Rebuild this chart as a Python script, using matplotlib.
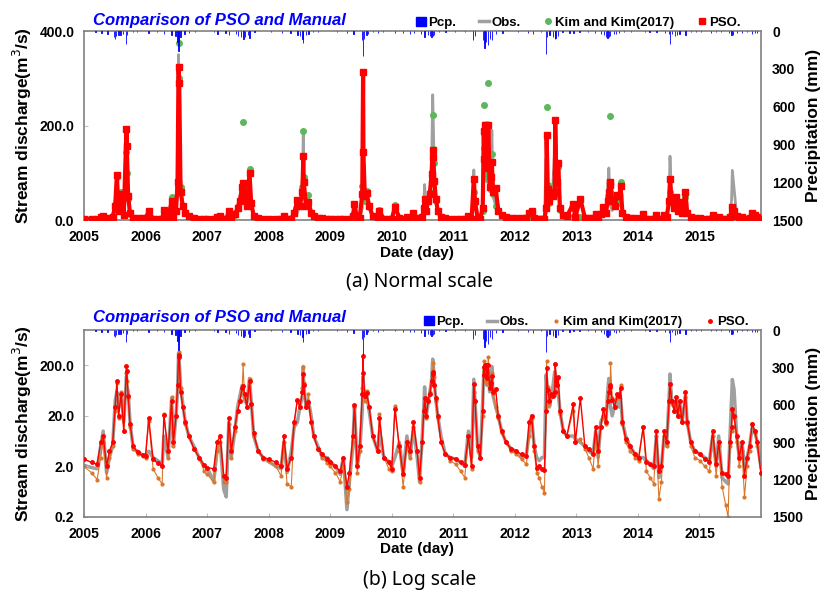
import numpy as np
import pandas as pd
import matplotlib
matplotlib.use('Agg')
from matplotlib import pyplot as plt
from matplotlib.lines import Line2D
from matplotlib.patches import Patch

plt.rcParams['font.family'] = ['Liberation Sans', 'DejaVu Sans']

# ---- data (m3/s), one row per year ----
dates = [
    '2005-01-01', '2005-02-15', '2005-03-20', '2005-04-10', '2005-04-25', '2005-05-15', '2005-06-01', '2005-06-20', '2005-07-05', '2005-07-15', '2005-07-25', '2005-08-10', '2005-08-25', '2005-09-10', '2005-09-12', '2005-09-20', '2005-10-01', '2005-10-20', '2005-11-15', '2005-12-15',
    '2006-01-01', '2006-01-20', '2006-02-15', '2006-03-15', '2006-04-10', '2006-04-20', '2006-05-15', '2006-06-05', '2006-06-15', '2006-07-01', '2006-07-10', '2006-07-16', '2006-07-20', '2006-07-28', '2006-08-10', '2006-08-25', '2006-09-15', '2006-10-15', '2006-11-15', '2006-12-15',
    '2007-01-01', '2007-02-10', '2007-03-01', '2007-03-20', '2007-04-10', '2007-04-25', '2007-05-10', '2007-05-25', '2007-06-15', '2007-07-01', '2007-07-15', '2007-07-28', '2007-08-03', '2007-08-12', '2007-08-25', '2007-09-10', '2007-09-20', '2007-10-05', '2007-11-01', '2007-12-01',
    '2008-01-01', '2008-02-15', '2008-03-15', '2008-04-01', '2008-04-20', '2008-05-15', '2008-06-01', '2008-06-20', '2008-07-05', '2008-07-20', '2008-07-25', '2008-07-28', '2008-08-10', '2008-08-25', '2008-09-10', '2008-09-25', '2008-10-20', '2008-11-15', '2008-12-15',
    '2009-01-01', '2009-02-01', '2009-03-01', '2009-03-20', '2009-04-10', '2009-04-25', '2009-05-15', '2009-05-25', '2009-06-10', '2009-06-25', '2009-07-10', '2009-07-15', '2009-07-17', '2009-07-25', '2009-08-05', '2009-08-20', '2009-09-10', '2009-10-10', '2009-10-20', '2009-11-15', '2009-12-15',
    '2010-01-01', '2010-01-20', '2010-02-15', '2010-03-10', '2010-04-01', '2010-04-20', '2010-05-10', '2010-06-01', '2010-06-15', '2010-07-01', '2010-07-10', '2010-07-15', '2010-07-25', '2010-08-05', '2010-08-15', '2010-08-25', '2010-09-01', '2010-09-05', '2010-09-10', '2010-09-20', '2010-10-01', '2010-10-20', '2010-11-15', '2010-12-15',
    '2011-01-15', '2011-02-15', '2011-03-10', '2011-04-01', '2011-04-20', '2011-05-03', '2011-05-10', '2011-05-25', '2011-06-10', '2011-06-25', '2011-07-01', '2011-07-05', '2011-07-10', '2011-07-15', '2011-07-20', '2011-07-28', '2011-08-05', '2011-08-12', '2011-08-18', '2011-08-25', '2011-09-10', '2011-09-25', '2011-10-15', '2011-11-10', '2011-12-10',
    '2012-01-10', '2012-02-10', '2012-03-10', '2012-03-25', '2012-04-10', '2012-04-25', '2012-05-10', '2012-05-25', '2012-06-10', '2012-06-25', '2012-07-05', '2012-07-08', '2012-07-15', '2012-07-25', '2012-08-05', '2012-08-15', '2012-08-25', '2012-08-28', '2012-09-03', '2012-09-08', '2012-09-15', '2012-09-25', '2012-10-15', '2012-11-05', '2012-12-13', '2012-12-25',
    '2013-01-24', '2013-02-20', '2013-03-15', '2013-04-10', '2013-04-25', '2013-05-10', '2013-05-25', '2013-06-10', '2013-06-25', '2013-07-05', '2013-07-12', '2013-07-20', '2013-07-22', '2013-08-01', '2013-08-15', '2013-09-01', '2013-09-12', '2013-09-20', '2013-10-01', '2013-10-20', '2013-11-15', '2013-12-15',
    '2014-01-05', '2014-02-01', '2014-02-20', '2014-03-15', '2014-04-05', '2014-04-20', '2014-05-05', '2014-05-20', '2014-06-05', '2014-06-20', '2014-07-05', '2014-07-10', '2014-07-20', '2014-08-05', '2014-08-15', '2014-08-25', '2014-09-05', '2014-09-20', '2014-10-10', '2014-10-20', '2014-11-10', '2014-12-05',
    '2015-01-05', '2015-02-01', '2015-03-01', '2015-03-20', '2015-04-10', '2015-04-25', '2015-05-15', '2015-06-05', '2015-06-20', '2015-07-01', '2015-07-10', '2015-07-15', '2015-07-25', '2015-08-10', '2015-08-25', '2015-09-10', '2015-09-25', '2015-10-10', '2015-10-25', '2015-11-10', '2015-11-25', '2015-12-10', '2015-12-31',
]
obs = [
    2.1, 1.9, 1.8, 5, 10, 1.5, 3, 5, 40, 60, 30, 50, 15, 120, 80, 60, 15, 4.5, 4, 3.3,
    3.3, 4, 3, 2.6, 2.2, 8, 3, 45, 5, 20, 60, 350, 250, 80, 35, 15, 8, 5, 3, 2,
    1.9, 1.0, 4, 6, 0.7, 0.5, 15, 3, 10, 30, 50, 80, 60, 40, 35, 110, 40, 8, 4, 3,
    2.5, 2.0, 1.8, 6, 1.5, 4, 12, 15, 30, 50, 190, 80, 30, 40, 20, 8, 5, 3, 3,
    2.5, 2, 1.4, 3, 0.28, 1, 5, 30, 2, 4, 25, 120, 80, 40, 50, 25, 8, 4, 10, 3, 2.5,
    2, 3, 6, 1.5, 8, 3, 12, 3, 1.0, 8, 30, 75, 20, 35, 60, 100, 265, 200, 100, 40, 20, 8, 3.5, 3,
    2.8, 2.4, 2, 10, 3, 106, 40, 5, 3, 40, 150, 190, 150, 100, 80, 160, 60, 100, 190, 50, 30, 20, 10, 6, 4.5,
    4, 3, 3.5, 8, 20, 5, 3, 2.6, 3, 3, 130, 100, 40, 30, 50, 80, 150, 120, 70, 50, 60, 25, 10, 8, 8, 7,
    6, 5, 4, 3.5, 10, 3, 15, 20, 15, 60, 110, 40, 30, 20, 30, 50, 30, 45, 15, 8, 5, 3.5,
    3, 3, 2.6, 2.2, 1.8, 8, 1.2, 2, 8, 5, 50, 135, 40, 30, 40, 20, 40, 15, 50, 15, 6, 4,
    3.5, 3, 2.6, 8, 2, 8, 1.2, 1, 0.9, 8, 40, 105, 67, 8, 3, 6, 2, 3, 5, 12, 10, 6, 2,
]
kim = [
    2.0, 1.5, 1.1, 3, 6, 1.2, 3, 5, 25, 90, 18, 60, 10, 143, 100, 45, 12, 4.5, 3.5, 3.2,
    3.0, 16, 1.8, 1.2, 0.9, 22, 3, 48, 5, 20, 70, 375, 300, 70, 30, 14, 8, 4.5, 3, 1.6,
    1.4, 1.0, 4, 6, 1.0, 1.0, 14, 3, 10, 25, 40, 60, 208, 45, 30, 108, 35, 8, 4, 2.8,
    2.6, 2.0, 1.3, 6, 0.9, 0.8, 14, 40, 30, 70, 188, 90, 30, 53, 15, 8, 4.5, 3, 2.3,
    2.0, 1.5, 1.0, 2, 0.4, 0.7, 6, 30, 1.5, 4, 72, 55, 65, 40, 62, 30, 8, 4, 22, 3, 1.8,
    1.6, 32, 4, 0.8, 5, 3, 12, 4, 1.0, 6, 28, 40, 18, 40, 60, 85, 150, 223, 120, 40, 18, 6, 3.5, 2.6,
    2.2, 1.6, 1.2, 7, 1.8, 60, 39, 4, 3, 20, 152, 243, 100, 95, 90, 290, 70, 85, 140, 55, 30, 18, 9, 6, 4,
    3.5, 2.8, 2.2, 8, 18, 4, 1.5, 1.2, 0.8, 0.6, 30, 240, 74, 35, 50, 55, 80, 210, 110, 80, 113, 22, 10, 8, 25, 6,
    7, 4.5, 3, 1.8, 8, 2, 12, 20, 14, 50, 60, 60, 221, 45, 30, 45, 50, 80, 14, 6, 4, 3,
    2.6, 12, 1.6, 1.2, 0.9, 8, 0.45, 1, 8, 5, 40, 60, 35, 25, 39, 20, 28, 15, 48, 14, 5, 3,
    2.6, 2.0, 1.6, 8, 1.3, 5, 0.8, 0.35, 0.2, 5, 10, 25, 18, 6, 2, 4, 0.5, 2, 4, 14, 9, 5, 1.5,
]
pso = [
    2.8, 2.4, 2.2, 6, 8, 2.0, 4, 6, 30, 96, 20, 55, 10, 193, 157, 50, 14, 5, 3.8, 3.3,
    3.2, 18, 2.8, 2.3, 2.0, 21, 4, 40, 6, 20, 80, 323, 290, 60, 30, 15, 8, 4.5, 3, 2.1,
    1.9, 1.8, 6, 8, 1.3, 1.2, 18, 4, 12, 25, 40, 70, 78, 55, 30, 100, 35, 9, 4, 3,
    2.8, 2.4, 2.0, 8, 1.8, 3, 15, 42, 30, 60, 135, 80, 30, 38, 15, 8, 4.5, 3.5, 2.8,
    2.4, 2.0, 1.6, 3, 0.8, 1.5, 8, 33, 2, 5, 55, 313, 143, 50, 57, 30, 8, 4, 18, 3, 2.4,
    1.8, 28, 5, 1.4, 6, 4, 15, 4, 1.2, 6, 25, 45, 20, 40, 55, 97, 149, 134, 83, 45, 20, 6, 3.5, 3,
    2.8, 2.4, 2.1, 8, 2, 87, 40, 5, 3, 25, 188, 130, 202, 202, 110, 202, 70, 90, 122, 60, 67, 20, 10, 6, 4.5,
    4, 3.5, 3.2, 15, 20, 5, 1.9, 2.0, 1.8, 1.7, 25, 179, 65, 40, 55, 50, 60, 212, 100, 81, 120, 25, 10, 8, 34, 6,
    45, 5, 4.5, 3.5, 12, 4, 12, 28, 15, 40, 60, 80, 75, 42, 30, 53, 50, 71, 15, 7, 5, 3.5,
    3, 12, 2.5, 2.2, 2.0, 10, 1.6, 2, 10, 6, 40, 87, 40, 25, 48, 20, 39, 15, 59, 15, 6, 4,
    3.5, 2.8, 2.5, 10, 2.2, 6, 1.5, 1.4, 1.3, 6, 12, 28, 20, 8, 3, 6, 1.3, 3, 5, 14, 10, 6, 1.5,
]

# daily precipitation (mm), main rain days
pcp_dates = [
    '2005-03-10', '2005-04-15', '2005-05-20', '2005-06-28', '2005-07-02', '2005-07-10', '2005-07-25', '2005-08-05', '2005-08-20', '2005-09-06', '2005-09-15', '2005-10-20', '2005-11-10',
    '2006-01-18', '2006-03-10', '2006-04-20', '2006-06-05', '2006-06-28', '2006-07-10', '2006-07-15', '2006-07-20', '2006-07-28', '2006-08-20', '2006-09-15', '2006-10-20',
    '2007-02-10', '2007-03-05', '2007-04-20', '2007-05-10', '2007-06-20', '2007-07-05', '2007-07-20', '2007-08-05', '2007-08-15', '2007-09-01', '2007-09-10', '2007-10-10',
    '2008-01-15', '2008-03-20', '2008-05-10', '2008-06-20', '2008-07-05', '2008-07-20', '2008-07-25', '2008-08-10', '2008-08-25', '2008-09-20', '2008-10-20',
    '2009-02-10', '2009-04-10', '2009-05-20', '2009-07-07', '2009-07-14', '2009-07-20', '2009-08-05', '2009-08-15', '2009-09-10', '2009-10-10', '2009-11-10',
    '2010-01-20', '2010-03-10', '2010-04-20', '2010-05-15', '2010-06-25', '2010-07-15', '2010-08-05', '2010-08-15', '2010-08-25', '2010-09-01', '2010-09-10', '2010-10-10', '2010-11-15',
    '2011-01-10', '2011-03-10', '2011-04-28', '2011-05-10', '2011-06-25', '2011-07-05', '2011-07-10', '2011-07-15', '2011-07-28', '2011-08-08', '2011-08-18', '2011-09-10', '2011-10-20',
    '2012-01-20', '2012-03-20', '2012-04-20', '2012-06-05', '2012-07-05', '2012-07-10', '2012-07-25', '2012-08-15', '2012-08-25', '2012-08-30', '2012-09-15', '2012-10-10', '2012-11-20', '2012-12-15',
    '2013-01-20', '2013-03-10', '2013-04-20', '2013-05-25', '2013-06-15', '2013-06-25', '2013-07-05', '2013-07-12', '2013-07-20', '2013-08-10', '2013-08-25', '2013-09-10', '2013-10-10', '2013-11-20',
    '2014-02-10', '2014-03-10', '2014-04-20', '2014-06-10', '2014-07-05', '2014-07-10', '2014-07-20', '2014-08-10', '2014-08-20', '2014-09-05', '2014-10-10', '2014-11-10', '2014-12-10',
    '2015-01-10', '2015-03-10', '2015-04-10', '2015-05-10', '2015-06-25', '2015-07-10', '2015-07-20', '2015-08-10', '2015-09-10', '2015-10-10', '2015-11-10', '2015-11-25', '2015-12-10',
]
pcp = [
    10, 15, 20, 45, 60, 40, 30, 35, 25, 100, 30, 10, 8,
    15, 8, 20, 30, 40, 90, 160, 90, 50, 20, 15, 10,
    8, 20, 15, 30, 25, 40, 50, 60, 45, 30, 55, 10,
    8, 15, 15, 30, 40, 60, 95, 30, 25, 10, 8,
    10, 15, 25, 70, 200, 60, 35, 20, 10, 15, 8,
    12, 15, 20, 18, 25, 45, 30, 40, 50, 40, 35, 10, 8,
    5, 10, 70, 40, 70, 135, 100, 85, 110, 60, 70, 25, 15,
    8, 15, 25, 10, 180, 50, 30, 45, 60, 55, 40, 10, 15, 12,
    10, 10, 15, 20, 30, 45, 55, 50, 40, 20, 25, 15, 10, 10,
    8, 10, 10, 15, 25, 100, 20, 40, 30, 25, 30, 10, 8,
    10, 12, 8, 10, 15, 30, 35, 15, 12, 10, 20, 15, 15,
]

year_labels = ['2005', '2006', '2007', '2008', '2009', '2010', '2011', '2012', '2013', '2014', '2015']
pcp_ticks = [0, 300, 600, 900, 1200, 1500]

assert len(dates) == len(obs) == len(kim) == len(pso)
assert len(pcp_dates) == len(pcp)

t = pd.to_datetime(dates)
tp = pd.to_datetime(pcp_dates)
year_ticks = pd.to_datetime(year_labels)

fig = plt.figure(figsize=(8.21, 5.91), dpi=100)
W, H = 821, 591


def box(x0, y0, x1, y1):
    return [x0 / W, 1 - y1 / H, (x1 - x0) / W, (y1 - y0) / H]


def panel(rect, log, title_y, legend_x, legend_y, caption, caption_y, xlabel_y):
    ax = fig.add_axes(rect)
    if log:
        ax.plot(t, obs, color='#a0a0a0', lw=2.5, zorder=1)
        ax.plot(t, kim, color='#d9782d', lw=0.8, marker='o', ms=2, zorder=2)
        ax.plot(t, pso, color='#ff0000', lw=1.0, marker='o', ms=2.5, zorder=3)
        ax.set_yscale('log')
        ax.set_ylim(0.2, 1000)
        ax.set_yticks([0.2, 2, 20, 200])
        ax.set_yticklabels(['0.2', '2.0', '20.0', '200.0'])
        ax.yaxis.set_minor_locator(plt.NullLocator())
    else:
        ax.plot(t, obs, color='#a0a0a0', lw=2, zorder=1)
        ax.plot(t, kim, color='#5cb85c', ls='none', marker='o', ms=4, zorder=2)
        ax.plot(t, pso, color='#ff0000', lw=3, marker='s', ms=5, zorder=3)
        ax.set_ylim(0, 400)
        ax.set_yticks([0, 200, 400])
        ax.set_yticklabels(['0.0', '200.0', '400.0'])
    ax.set_xlim(pd.Timestamp('2005-01-01'), pd.Timestamp('2016-01-01'))
    ax.set_xticks(year_ticks)
    ax.set_xticklabels(year_labels)
    for s in ax.spines.values():
        s.set_color('#808080')
        s.set_linewidth(1.2)
    ax.tick_params(direction='in', length=3, color='#c0c0c0', labelsize=10, pad=7)
    for lab in ax.get_xticklabels() + ax.get_yticklabels():
        lab.set_fontweight('bold')
    ax.set_ylabel('Stream discharge(m$^3$/s)', fontsize=12.5, fontweight='bold', labelpad=4)

    ax2 = ax.twinx()
    ax2.bar(tp, pcp, width=2, color='#0000ff', edgecolor='#0000ff', linewidth=0.6, zorder=1)
    ax2.set_ylim(1500, 0)
    ax2.set_yticks(pcp_ticks)
    ax2.set_yticklabels([str(v) for v in pcp_ticks])
    ax2.tick_params(direction='in', length=0, labelsize=10, pad=8)
    for lab in ax2.get_yticklabels():
        lab.set_fontweight('bold')
    for s in ax2.spines.values():
        s.set_visible(False)
    ax2.set_ylabel('Precipitation (mm)', fontsize=12.5, fontweight='bold', labelpad=2)

    fig.text(93 / W, 1 - title_y / H, 'Comparison of PSO and Manual', color='#0000ff',
             fontsize=12, fontweight='bold', style='italic', va='center', ha='left')
    fig.text(417 / W, 1 - xlabel_y / H, 'Date (day)', fontsize=11, fontweight='bold',
             ha='center', va='center')
    fig.text(420 / W, 1 - caption_y / H, caption, fontsize=14, family='Noto Sans',
             ha='center', va='center')

    kim_handle = (Line2D([], [], color='#5cb85c', ls='none', marker='o', ms=4) if not log
                  else Line2D([], [], color='#d9782d', ls='none', marker='o', ms=2))
    pso_handle = (Line2D([], [], color='#ff0000', ls='none', marker='s', ms=5) if not log
                  else Line2D([], [], color='#ff0000', ls='none', marker='o', ms=2.5))
    handles = [Patch(color='#0000ff'), Line2D([], [], color='#a0a0a0', lw=2.5),
               kim_handle, pso_handle]
    fig.legend(handles, ['Pcp.', 'Obs.', 'Kim and Kim(2017)', 'PSO.'],
               loc='center right', bbox_to_anchor=(legend_x / W, 1 - legend_y / H),
               ncol=4, frameon=False, handlelength=0.8, handletextpad=0.15,
               columnspacing=1.7, borderaxespad=0, borderpad=0,
               prop={'weight': 'bold', 'size': 9.5})
    return ax


panel(box(84, 31, 761, 220), False, 20, 741, 23, '(a) Normal scale', 281, 253)
panel(box(84, 330, 761, 517), True, 318, 749, 322, '(b) Log scale', 580, 549)

fig.savefig('out.png', dpi=100)
